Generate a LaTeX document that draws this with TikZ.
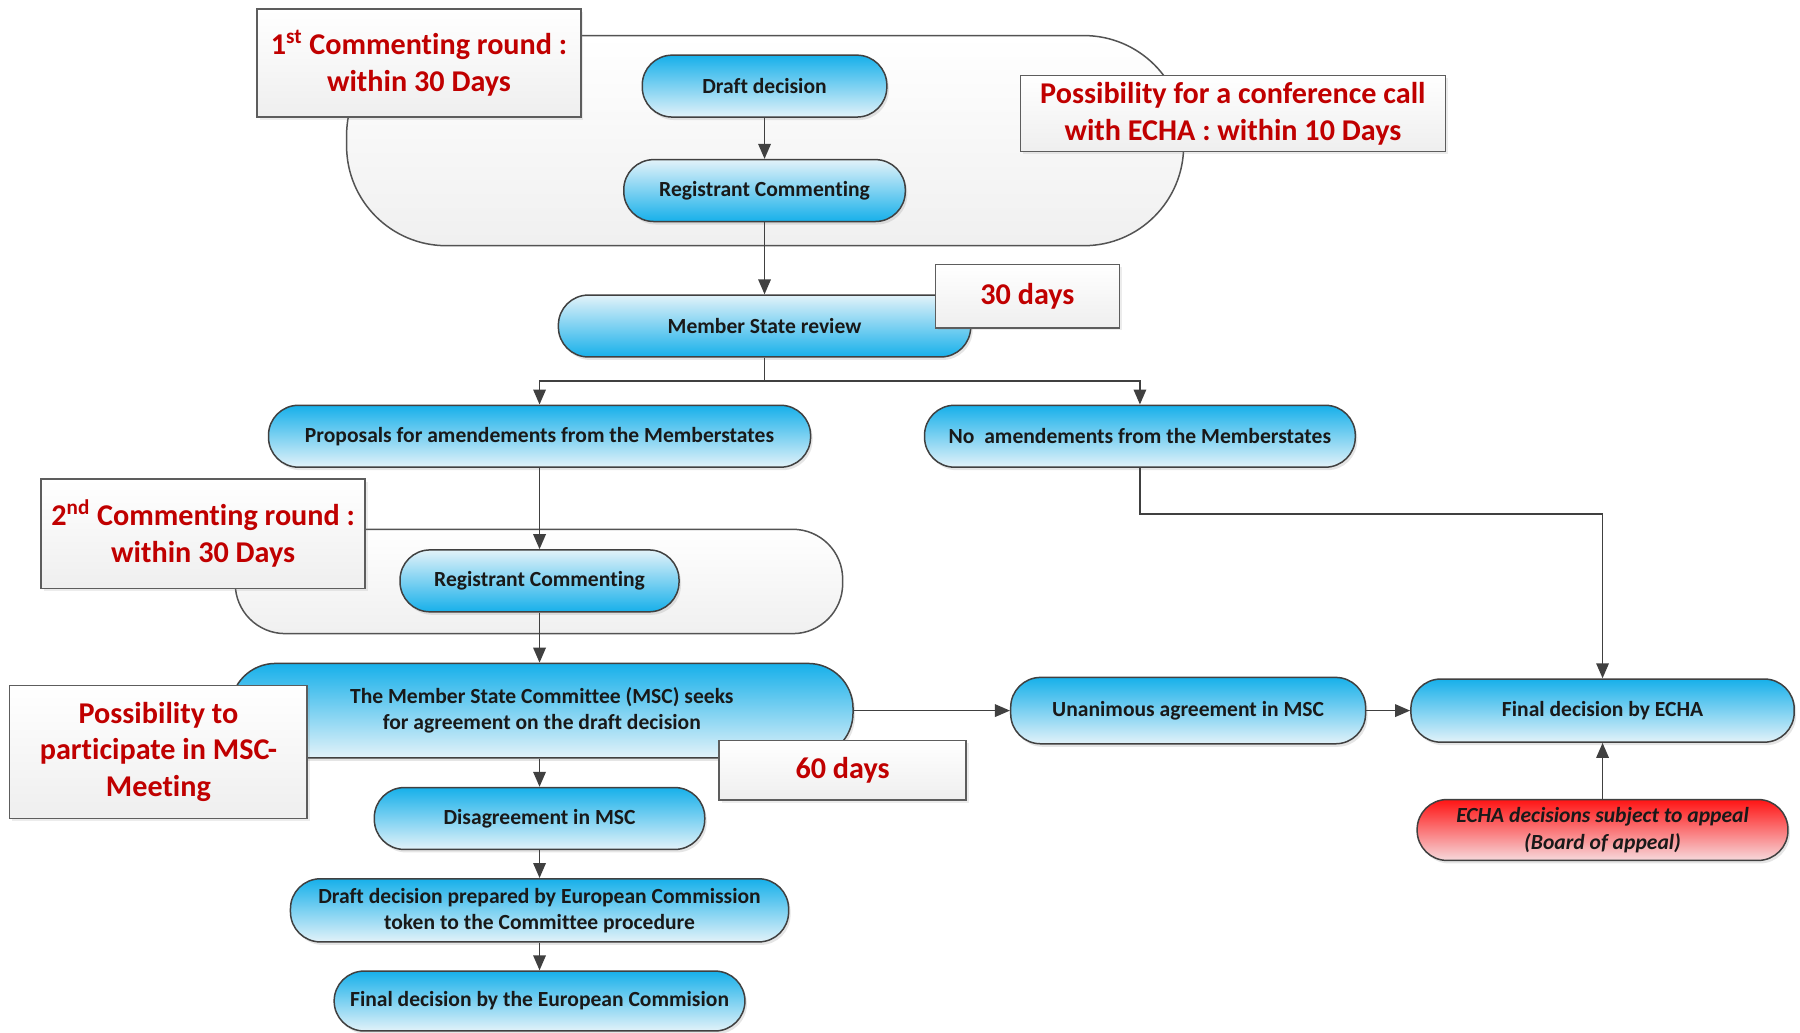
\documentclass[tikz,border=0pt]{standalone}
\usepackage{fontspec}
\setmainfont{Carlito}[Ligatures=NoCommon]
\usepackage{tikz}
\usetikzlibrary{arrows.meta, positioning, shadows}

\definecolor{echablue}{HTML}{17B0EA}
\definecolor{echalight}{HTML}{E2F2F9}
\definecolor{echared}{HTML}{FF1414}
\definecolor{echapink}{HTML}{F6D9DC}
\definecolor{notered}{HTML}{C00000}
\definecolor{linegray}{HTML}{404040}

\begin{document}
\begin{tikzpicture}[x=0.23mm, y=-0.23mm,
      pill/.style={rectangle, rounded corners=6mm, draw=linegray, line width=0.3mm, top color=echablue, bottom color=echalight, minimum height=12.4mm, align=center, text=black!90, font=\bfseries\fontsize{12.3}{15}\selectfont, drop shadow={shadow xshift=0.4mm, shadow yshift=-0.6mm, opacity=0.2}},
      pillup/.style={pill, top color=echalight, bottom color=echablue},
      appeal/.style={pill, top color=echared, bottom color=echapink, font=\bfseries\itshape\fontsize{12.3}{15}\selectfont},
      note/.style={rectangle, draw=linegray!85, line width=0.3mm, top color=white, bottom color=gray!13, text=notered, align=center, font=\bfseries\fontsize{17.2}{21}\selectfont, drop shadow={shadow xshift=0.5mm, shadow yshift=-0.5mm, opacity=0.15}},
      region/.style={rectangle, draw=linegray!90, line width=0.3mm, top color=white, bottom color=gray!12},
      arrow/.style={-{Triangle[length=3mm, width=2.5mm]}, draw=linegray, line width=0.35mm}]

      \useasboundingbox[fill=white] (0,0) rectangle (1568,899);

      % Commenting rounds
      \node[region, rounded corners=20mm, minimum width=167.7mm, minimum height=42.1mm] (round1) at (666.5,122.5) {};
      \node[region, rounded corners=10mm, minimum width=121.7mm, minimum height=20.9mm] (round2) at (469.5,506.5) {};

      \node[pill, minimum width=49mm] (draft) at (666,75) {Draft decision};
      \node[pillup, minimum width=56.4mm] (reg1) at (666,166) {Registrant Commenting};
      \node[pillup, minimum width=82.6mm] (msr) at (666,284) {Member State review};
      \node[pill, minimum width=108.6mm] (amend) at (470,380) {Proposals for amendements from the Memberstates};
      \node[pill, minimum width=86.3mm] (noamend) at (993,380) {No\ \ amendements from the Memberstates};
      \node[pillup, minimum width=55.9mm] (reg2) at (470,506) {Registrant Commenting};
      \node[pill, rounded corners=9mm, minimum width=124.7mm, minimum height=18.9mm] (msc) at (472,619) {The Member State Committee (MSC) seeks\\for agreement on the draft decision};
      \node[pill, minimum width=66.2mm] (disagree) at (470,713) {Disagreement in MSC};
      \node[pill, minimum width=99.8mm, minimum height=12.65mm] (prepared) at (470,793) {Draft decision prepared by European Commission\\token to the Committee procedure};
      \node[pill, minimum width=82.3mm, minimum height=12mm] (finalec) at (470,872) {Final decision by the European Commision};
      \node[pill, minimum width=71.1mm, minimum height=13.3mm] (unanimous) at (1035,619) {Unanimous agreement in MSC};
      \node[pill, minimum width=76.8mm, minimum height=12.65mm] (finalecha) at (1396,619) {Final decision by ECHA};
      \node[appeal, minimum width=74.3mm, minimum height=12.2mm] (boa) at (1396,723) {ECHA decisions subject to appeal\\(Board of appeal)};

      % Arrows
      \draw[arrow] (draft) -- (reg1);
      \draw[arrow] (reg1) -- (msr);
      \draw[arrow] (msr.south) -- ++(0,20) -| (amend.north);
      \draw[arrow] (msr.south) -- ++(0,20) -| (noamend.north);
      \draw[arrow] (amend) -- (reg2);
      \draw[arrow] (reg2.south) -- (reg2.south |- msc.north);
      \draw[arrow] (disagree.north |- msc.south) -- (disagree.north);
      \draw[arrow] (disagree) -- (prepared);
      \draw[arrow] (prepared) -- (finalec);
      \draw[arrow] (msc.east) -- (unanimous.west);
      \draw[arrow] (unanimous) -- (finalecha);
      \draw[arrow] (noamend.south) -- ++(0,40) -| (finalecha.north);
      \draw[arrow] (boa) -- (finalecha);

      % Annotations
      \node[note, minimum width=64.9mm, minimum height=21.6mm] (note1) at (365,55) {1\textsuperscript{st} Commenting round :\\within 30 Days};
      \node[note, minimum width=85.1mm, minimum height=15.2mm] (conf) at (1074,99) {Possibility for a conference call\\with ECHA : within 10 Days};
      \node[note, minimum width=36.8mm, minimum height=12.65mm] (days30) at (895,258) {30 days};
      \node[note, minimum width=64.9mm, minimum height=21.9mm] (note2) at (177,465) {2\textsuperscript{nd} Commenting round :\\within 30 Days};
      \node[note, minimum width=59.6mm, minimum height=26.7mm] (mscnote) at (138,655) {Possibility to\\participate in MSC-\\Meeting};
      \node[note, minimum width=49.5mm, minimum height=12mm] (days60) at (734,671) {60 days};
    \end{tikzpicture}
\end{document}
